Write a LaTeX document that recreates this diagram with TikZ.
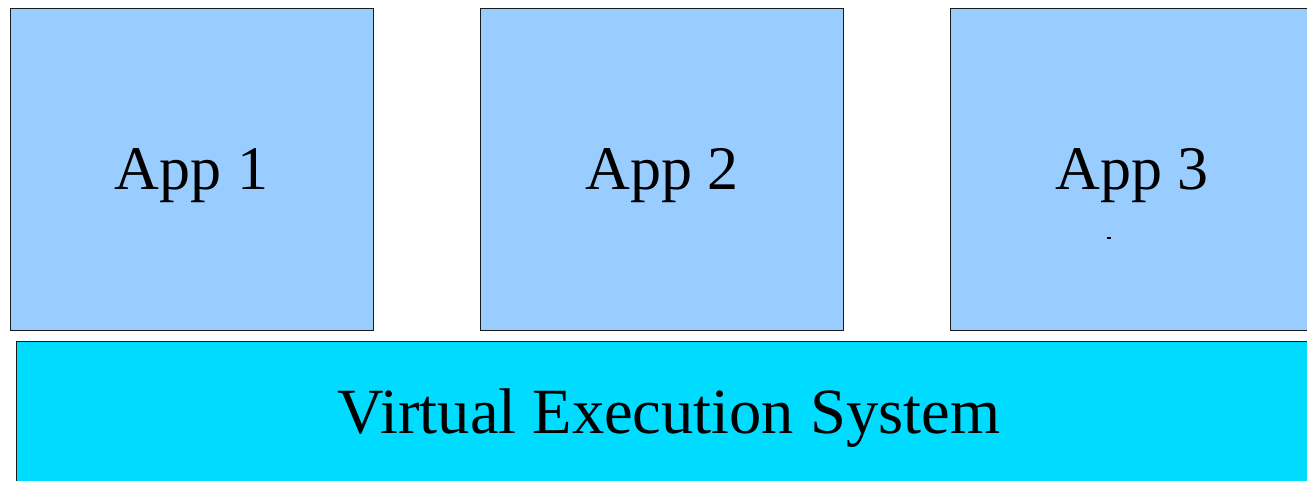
\documentclass[tikz,border=0pt]{standalone}
\usepackage{fontspec}
\setmainfont{Liberation Serif}
\definecolor{appblue}{HTML}{99CCFF}
\definecolor{vescyan}{HTML}{00DCFF}
\definecolor{edge}{HTML}{1A1A1A}
\begin{document}
\begin{tikzpicture}[x=1pt,y=-1pt,
  appbox/.style={draw=edge,line width=1pt,fill=appblue,minimum width=363pt,minimum height=321pt,inner sep=0pt},
  vesbox/.style={draw=edge,line width=1pt,fill=vescyan,minimum width=1306pt,minimum height=140pt,inner sep=0pt},
  applabel/.style={inner sep=0pt,font=\fontsize{62}{66}\selectfont,yshift=-6pt},
  veslabel/.style={inner sep=0pt,font=\fontsize{64.5}{70}\selectfont,yshift=-7pt}]
\useasboundingbox (0,0) rectangle (1307,481);
\clip (0,0) rectangle (1307,481);
\node[appbox] (app1) at (191.5,169.5) {};
\node[appbox] (app2) at (662,169.5) {};
\node[appbox] (app3) at (1132,169.5) {};
\node[vesbox] (ves) at (669,411) {};
\node[applabel] (t1) at (app1.center) {App 1};
\node[applabel] (t2) at (app2.center) {App 2};
\node[applabel] (t3) at (app3.center) {App 3};
\node[veslabel] (tv) at (ves.center) {Virtual Execution System};
\fill[black] (1107,237) rectangle (1111,239);
\end{tikzpicture}
\end{document}
